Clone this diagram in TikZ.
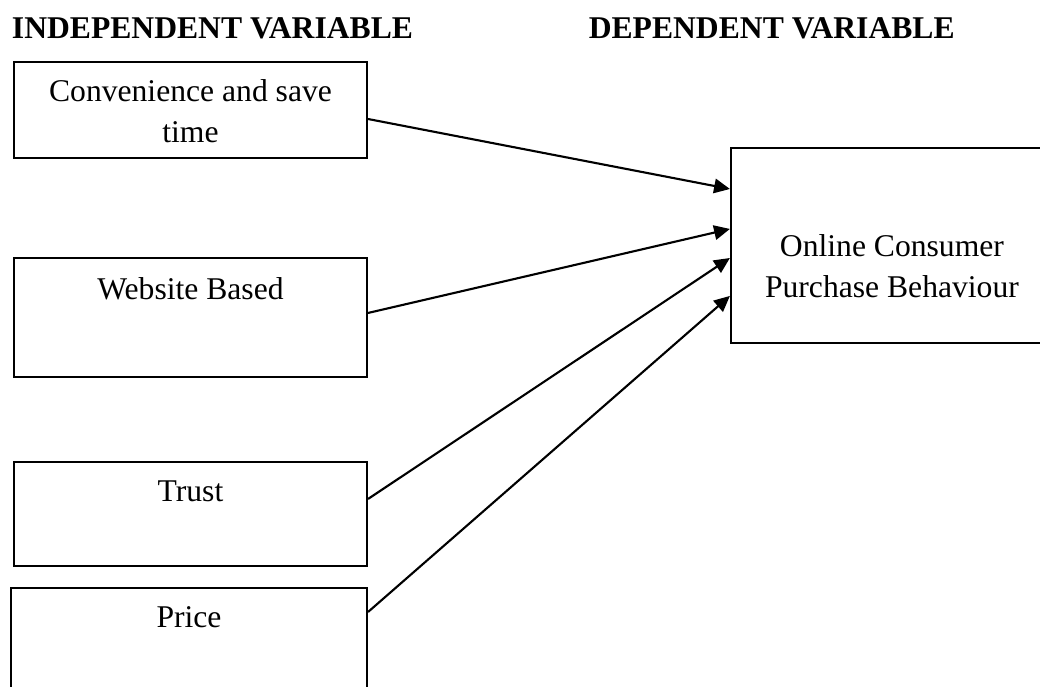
\documentclass[tikz,border=0pt]{standalone}
\usepackage{fontspec}
\setmainfont{Liberation Serif}
\usetikzlibrary{arrows.meta,positioning}

\begin{document}
\begin{tikzpicture}[>={Triangle[length=6pt,width=5.5pt]},
    varbox/.style={draw, line width=0.8pt, rectangle, inner sep=0pt},
    boxtext/.style={inner sep=0pt, align=center, font=\fontsize{12}{15.5}\selectfont},
    heading/.style={inner sep=0pt, anchor=base, font=\fontsize{12}{15.5}\selectfont\bfseries},
    link/.style={->, line width=0.8pt}]
    \useasboundingbox (0,0) rectangle (13.867,9.16);
    \clip (0,0) rectangle (13.867,9.16);

    % Headings
    \node[heading] (indep) at (2.833,8.653) {INDEPENDENT VARIABLE};
    \node[heading] (dep) at (10.29,8.653) {DEPENDENT VARIABLE};

    % Independent variables
    \node[varbox, minimum width=4.707cm, minimum height=1.28cm] (conv) at (2.54,7.693) {};
    \node[boxtext, below=0.24cm of conv.north] (convtext) {Convenience and save\\time};

    \node[varbox, minimum width=4.707cm, minimum height=1.587cm] (web) at (2.54,4.927) {};
    \node[boxtext, below=0.267cm of web.north] (webtext) {Website Based};

    \node[varbox, minimum width=4.707cm, minimum height=1.387cm] (trust) at (2.54,2.307) {};
    \node[boxtext, below=0.26cm of trust.north] (trusttext) {Trust};

    \node[varbox, minimum width=4.747cm, minimum height=1.467cm] (price) at (2.52,0.587) {};
    \node[boxtext, below=0.26cm of price.north] (pricetext) {Price};

    % Dependent variable
    \node[varbox, minimum width=4.293cm, minimum height=2.6cm] (outc) at (11.893,5.887) {};
    \node[boxtext, below=1.16cm of outc.north] (outctext) {Online Consumer\\Purchase Behaviour};

    % Links
    \draw[link] ([yshift=-0.12cm]conv.east) -- ([yshift=0.753cm]outc.west);
    \draw[link] ([yshift=0.06cm]web.east) -- ([yshift=0.22cm]outc.west);
    \draw[link] ([yshift=0.2cm]trust.east) -- ([yshift=-0.167cm]outc.west);
    \draw[link] ([yshift=0.413cm]price.east) -- ([yshift=-0.673cm]outc.west);
\end{tikzpicture}
\end{document}
